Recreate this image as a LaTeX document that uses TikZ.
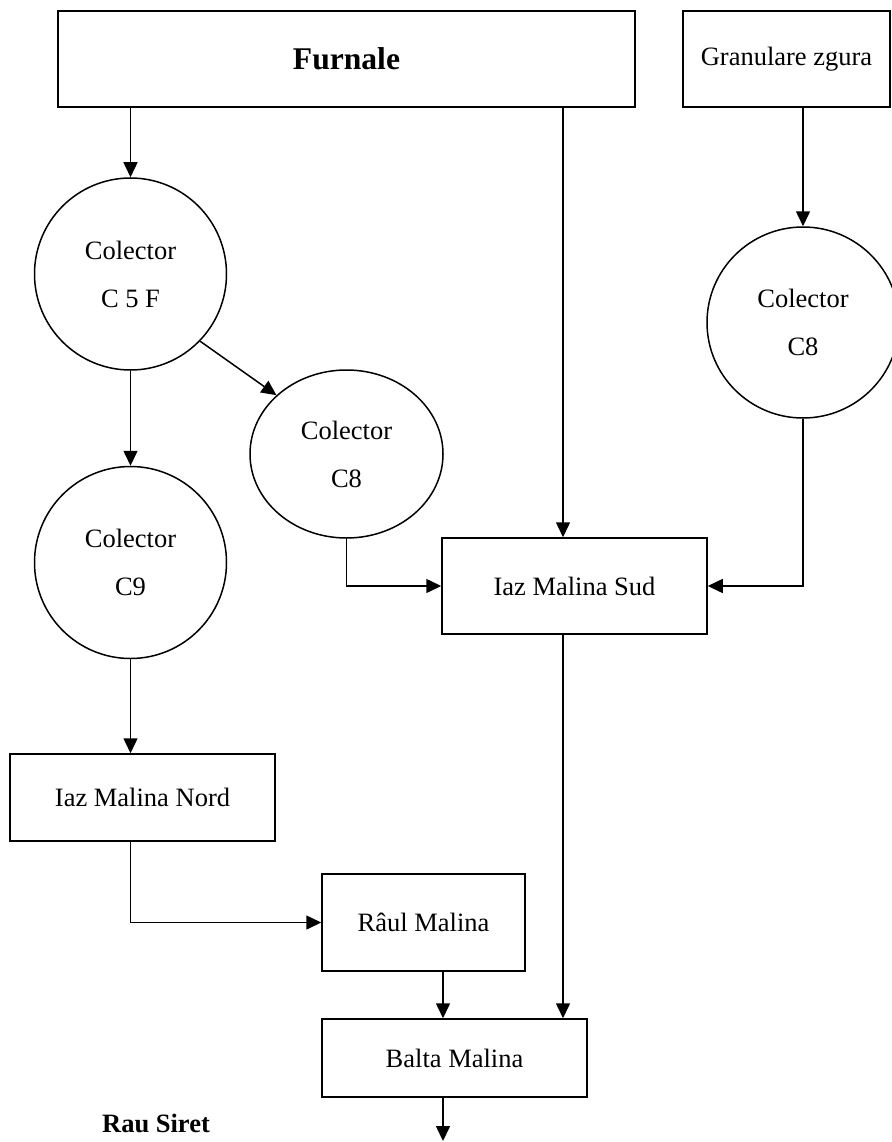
\documentclass[tikz,border=0pt]{standalone}
\usepackage{fontspec}
\setmainfont{Liberation Serif}
\usepackage{tikz}
\usetikzlibrary{shapes.geometric, arrows.meta, positioning}
\tikzstyle{source} = [rectangle, minimum height=96pt, text centered, draw=black, line width=1.5pt]
\tikzstyle{basin} = [rectangle, text centered, draw=black, line width=1.5pt]
\tikzstyle{collector} = [ellipse, align=center, inner sep=0pt, draw=black, line width=1.5pt, font=\fontsize{26.5}{48}\selectfont]
\tikzstyle{arrow} = [-{Triangle[length=15pt,width=14pt]}, line width=1.5pt]

\begin{document}
\begin{tikzpicture}[x=1pt, y=-1pt, font=\fontsize{26.5}{32}\selectfont]
  \useasboundingbox (0,0) rectangle (891,1142);
  \node (furnale) [source, minimum width=577pt, font=\fontsize{31.6}{36}\selectfont\bfseries] at (346.5,59) {Furnale};
  \node (granulare) [source, minimum width=207pt] at (786.5,59) {Granulare zgura};
  \node (c5f) [collector, minimum width=192pt, minimum height=192pt] at (130.5,274) {Colector\\ C 5 F};
  \node (c8a) [collector, minimum width=193pt, minimum height=168pt] at (346.5,454) {Colector\\ C8};
  \node (c8b) [collector, minimum width=192pt, minimum height=191pt] at (803,322.5) {Colector\\ C8};
  \node (c9) [collector, minimum width=192pt, minimum height=192pt] at (130.5,562.5) {Colector\\ C9};
  \node (sud) [basin, minimum width=265pt, minimum height=96pt] at (574.5,586) {Iaz Malina Sud};
  \node (nord) [basin, minimum width=265pt, minimum height=87pt] at (142.5,797.5) {Iaz Malina Nord};
  \node (raul) [basin, minimum width=203pt, minimum height=97pt] at (423.5,922.5) {Râul Malina};
  \node (balta) [basin, minimum width=265pt, minimum height=78pt] at (454.5,1058) {Balta Malina};
  \node (siret) [anchor=base, font=\fontsize{26.5}{32}\selectfont\bfseries] at (156,1132) {Rau Siret};
  \coordinate (siretin) at (443,1141);

  \draw [arrow] (furnale.south -| c5f.north) -- (c5f.north);
  \draw [arrow] ([xshift=-11.5pt]sud.north |- furnale.south) -- ([xshift=-11.5pt]sud.north);
  \draw [arrow] (granulare.south -| c8b.north) -- (c8b.north);
  \draw [arrow] (c5f.south) -- (c9.north);
  \draw [arrow] (c5f.-44) -- (c8a.140);
  \draw [arrow] (c8a.south) |- (sud.west);
  \draw [arrow] (c8b.south) |- (sud.east);
  \draw [arrow] (c9.south) -- (c9.south |- nord.north);
  \draw [arrow] (c9.south |- nord.south) |- (raul.west);
  \draw [arrow] ([xshift=19.5pt]raul.south) -- ([xshift=19.5pt]raul.south |- balta.north);
  \draw [arrow] ([xshift=-11.5pt]sud.south) -- ([xshift=-11.5pt]sud.south |- balta.north);
  \draw [arrow] (siretin |- balta.south) -- (siretin);
\end{tikzpicture}
\end{document}
